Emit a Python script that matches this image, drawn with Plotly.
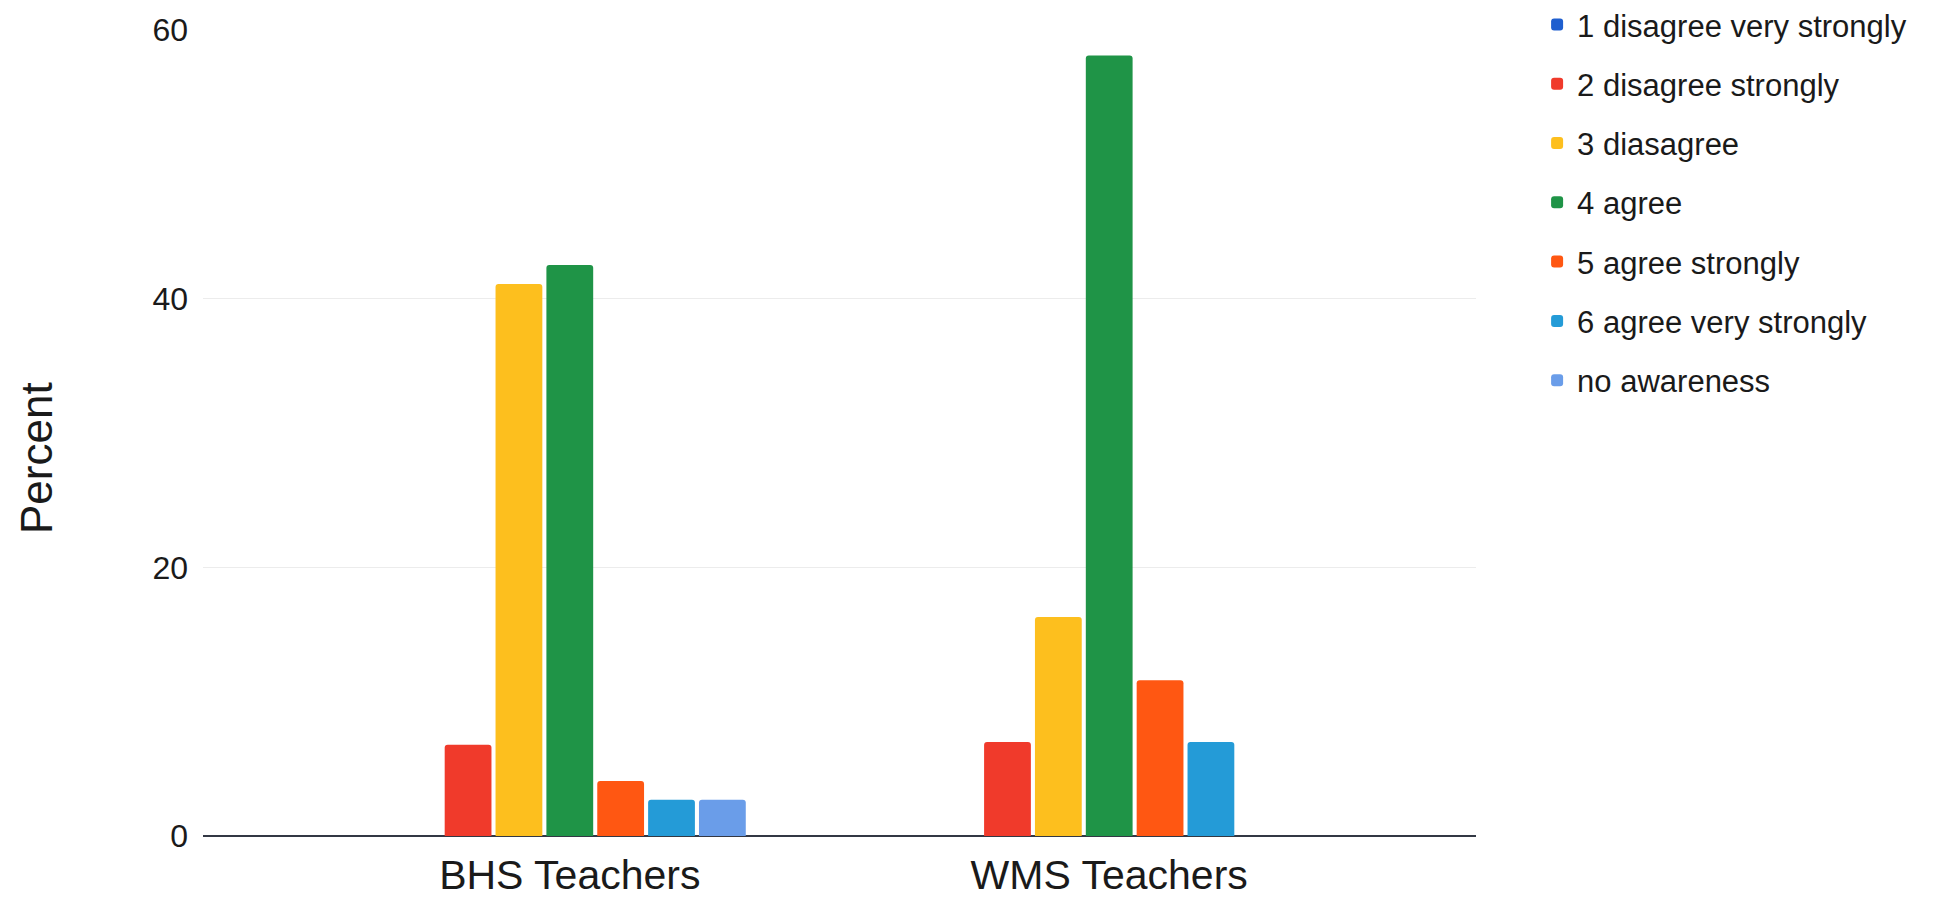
import plotly.graph_objects as go

categories = ["BHS Teachers", "WMS Teachers"]
series_names = [
    "1 disagree very strongly",
    "2 disagree strongly",
    "3 diasagree",
    "4 agree",
    "5 agree strongly",
    "6 agree very strongly",
    "no awareness",
]
values_1 = [0, 0]
values_2 = [6.8, 7.0]
values_3 = [41.1, 16.3]
values_4 = [42.5, 58.1]
values_5 = [4.1, 11.6]
values_6 = [2.7, 7.0]
values_7 = [2.7, 0]
series_values = [values_1, values_2, values_3, values_4, values_5, values_6, values_7]
colors = ["#1f5fcf", "#f03a2b", "#fdbf1e", "#1f9447", "#ff5712", "#249bd7", "#6a9de9"]
y_ticks = [0, 20, 40, 60]
y_title = "Percent"

FONT = "Liberation Sans, Arial, sans-serif"

fig = go.Figure()
for i, (name, vals, col) in enumerate(zip(series_names, series_values, colors)):
    fig.add_trace(go.Bar(
        x=categories, y=vals, name=name,
        marker=dict(color=col, line=dict(width=0), cornerradius=3),
        legendgroup=f"g{i}",
    ))

fig.add_annotation(
    text=y_title, textangle=-90, showarrow=False,
    xref="paper", yref="paper", x=0, y=0.469,
    xanchor="center", yanchor="middle", xshift=-166,
    font=dict(size=44, family=FONT, color="#1a1a1a"),
)

fig.update_layout(
    width=1946, height=891,
    margin=dict(l=195, r=478, t=22, b=63, autoexpand=False),
    paper_bgcolor="white", plot_bgcolor="white",
    barmode="group", bargap=0.34, bargroupgap=0.08,
    font=dict(family=FONT, color="#1a1a1a"),
    showlegend=True,
    legend=dict(
        x=1.048, xanchor="left", y=1.04, yanchor="top",
        font=dict(size=31, family=FONT, color="#1a1a1a"),
        traceorder="grouped", tracegroupgap=16,
        bgcolor="rgba(0,0,0,0)",
    ),
    xaxis=dict(
        type="category", range=[-0.68, 1.68], automargin=False,
        showgrid=False, showline=False, zeroline=False,
        tickfont=dict(size=41, family=FONT, color="#1a1a1a"),
        ticks="", ticklabelstandoff=11,
    ),
    yaxis=dict(
        range=[0, 60], tickvals=y_ticks, automargin=False,
        showgrid=True, gridcolor="#ececec", gridwidth=1,
        zeroline=True, zerolinecolor="#333844", zerolinewidth=2,
        showline=False,
        tickfont=dict(size=32, family=FONT, color="#1a1a1a"),
        ticks="", ticklabelstandoff=14,
    ),
)

fig.write_html("out.html")
